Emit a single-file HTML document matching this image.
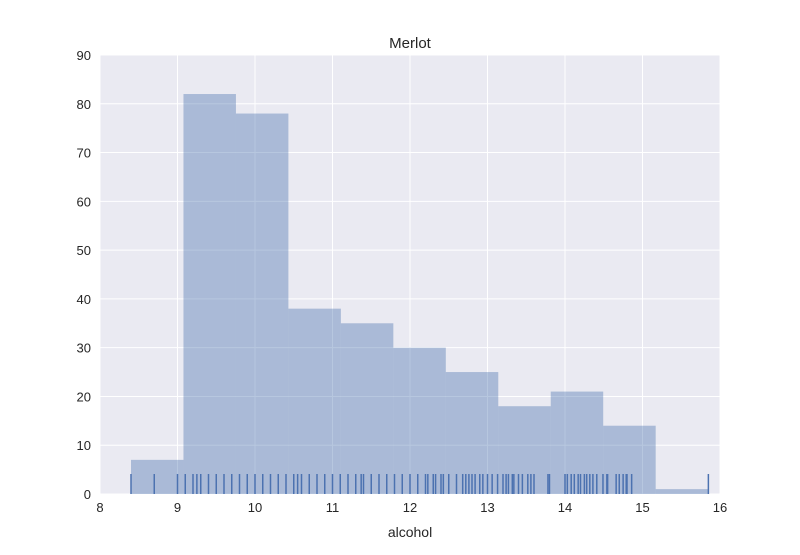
<!DOCTYPE html>
<html><head><meta charset="utf-8"><style>
body{margin:0;background:#fff;}
svg text{font-family:"Liberation Sans",Arial,sans-serif;fill:#262626;}
</style></head><body>
<svg id="c" width="800" height="550"></svg>
<script>
const binEdgeStart = 8.4;
const binWidth = 0.677;
const binCounts = [7,82,78,38,35,30,25,18,21,14,1];
const rugValues = [8.4,8.7,9.0,9.1,9.2,9.25,9.3,9.4,9.5,9.6,9.7,9.8,9.9,10.0,10.1,10.2,10.3,10.4,10.5,10.55,10.6,10.7,10.8,10.9,11.0,11.1,11.2,11.3,11.37,11.4,11.5,11.6,11.7,11.8,11.9,12.0,12.1,12.2,12.23,12.3,12.33,12.4,12.43,12.5,12.6,12.68,12.72,12.76,12.8,12.84,12.9,12.94,13.0,13.06,13.13,13.2,13.24,13.27,13.32,13.34,13.4,13.45,13.52,13.56,13.6,13.78,13.8,14.0,14.03,14.08,14.12,14.17,14.2,14.25,14.28,14.32,14.36,14.41,14.49,14.54,14.55,14.66,14.7,14.75,14.79,14.8,14.86,15.85];
const xTicks = [8,9,10,11,12,13,14,15,16];
const yTicks = [0,10,20,30,40,50,60,70,80,90];

const L=100,R=720,T=55,B=494;
const xs=v=>L+(v-8)/8*(R-L);
const ys=v=>B-v/90*(B-T);
const svg=document.getElementById('c');
const NS='http://www.w3.org/2000/svg';
function mk(tag,attrs,parent){const e=document.createElementNS(NS,tag);for(const k in attrs)e.setAttribute(k,attrs[k]);(parent||svg).appendChild(e);return e;}

const bg=mk('rect',{x:L,y:T,width:R-L,height:B-T,fill:'#eaeaf2'});


xTicks.forEach(t=>{
  const g=mk('line',{x1:xs(t),x2:xs(t),y1:T,y2:B,stroke:'#fff','stroke-width':1});
  
  
  const tx=mk('text',{x:xs(t),y:B+18,'text-anchor':'middle','font-size':13});
  tx.textContent=t;
  
  
});
yTicks.forEach(t=>{
  const g=mk('line',{x1:L,x2:R,y1:ys(t),y2:ys(t),stroke:'#fff','stroke-width':1});
  
  
  const tx=mk('text',{x:L-9,y:ys(t)+5,'text-anchor':'end','font-size':13});
  tx.textContent=t;
  
  
});
binCounts.forEach((c,i)=>{
  const x0=xs(binEdgeStart+i*binWidth),x1=xs(binEdgeStart+(i+1)*binWidth);
  const r=mk('rect',{x:x0,y:ys(c),width:x1-x0,height:B-ys(c),fill:'#4c72b0','fill-opacity':0.4});
  
  
});
rugValues.forEach(v=>{
  const l=mk('line',{x1:xs(v),x2:xs(v),y1:B-20,y2:B,stroke:'#4c72b0','stroke-width':1.5});
  
  
});
const title=mk('text',{x:(L+R)/2,y:48,'text-anchor':'middle','font-size':15});
title.textContent='Merlot';


const xl=mk('text',{x:(L+R)/2,y:537,'text-anchor':'middle','font-size':14});
xl.textContent='alcohol';


</script>
</body></html>
